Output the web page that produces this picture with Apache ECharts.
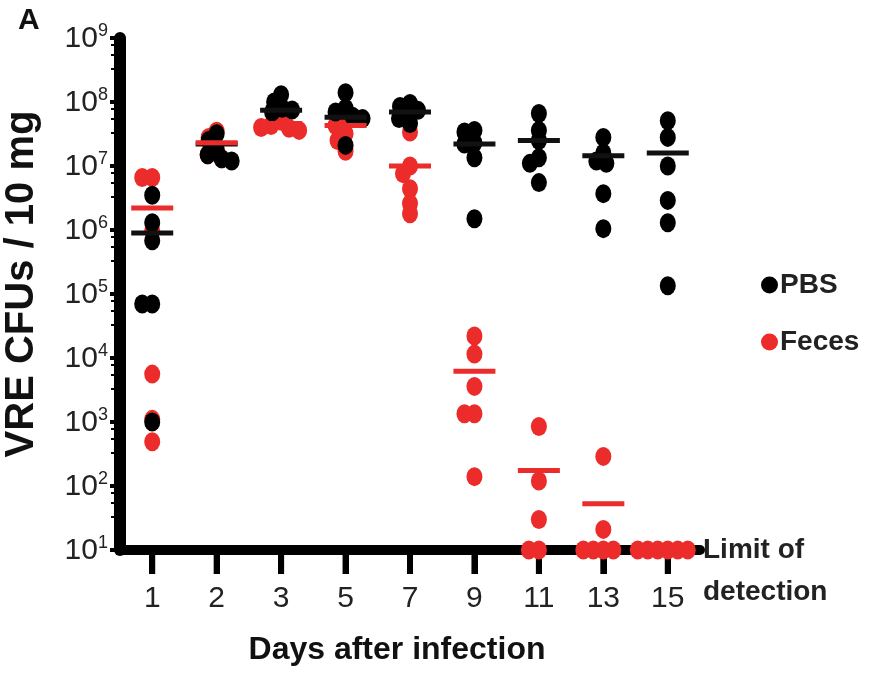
<!DOCTYPE html>
<html>
<head>
<meta charset="utf-8">
<script src="https://cdn.jsdelivr.net/npm/echarts@6/dist/echarts.min.js"></script>
<style>
  html, body { margin: 0; padding: 0; background: #fff; }
  #main { width: 871px; height: 673px; }
</style>
</head>
<body>
<div id="main"></div>
<script>
// days after infection (x categories)
const days = ['1', '2', '3', '5', '7', '9', '11', '13', '15'];

// CFU / 10 mg per mouse, one list per day
const pbsValues = [
  [3.5e6, 1.3e6, 6.8e5, 7e4, 7e4, 1e3],
  [3.2e7, 2.5e7, 1.8e7, 1.5e7, 1.3e7, 1.2e7],
  [1.3e8, 1.0e8, 8e7, 7.5e7, 7e7],
  [1.4e8, 8e7, 7e7, 6e7, 5.5e7, 2.1e7],
  [9.5e7, 8.5e7, 7.4e7, 6.6e7, 5.5e7, 4.6e7],
  [3.6e7, 3.4e7, 2.3e7, 2.2e7, 1.35e7, 1.5e6],
  [6.6e7, 3.6e7, 2.5e7, 1.35e7, 1.1e7, 5.5e6],
  [2.8e7, 1.6e7, 1.2e7, 1.1e7, 3.7e6, 1.05e6],
  [5.1e7, 2.8e7, 1.0e7, 2.9e6, 1.3e6, 1.35e5]
];
const fecesValues = [
  [6.6e6, 6.6e6, 9.7e5, 5.6e3, 1.1e3, 4.9e2],
  [3.5e7, 2.8e7, 1.8e7, 1.5e7, 1.3e7],
  [5e7, 4.3e7, 3.9e7, 3.6e7, 4e7],
  [5e7, 4.3e7, 3.2e7, 2.5e7, 1.7e7],
  [3.4e7, 1.0e7, 7.6e6, 4.4e6, 2.6e6, 1.8e6],
  [2.2e4, 1.15e4, 3.6e3, 1.35e3, 1.35e3, 1.4e2],
  [8.5e2, 1.2e2, 30, 10, 10],
  [2.9e2, 21, 10, 10, 10, 10],
  [10, 10, 10, 10, 10, 10]
];
// median bars
const pbsMedian = [9e5, 2.2e7, 7.4e7, 5.8e7, 7e7, 2.2e7, 2.5e7, 1.45e7, 1.6e7];
const fecesMedian = [2.2e6, 2.3e7, 4.6e7, 4.3e7, 1.0e7, 6.2e3, 1.74e2, 53, 10];

// y axis range
const yMin = 10;
const yMax = 1e9;

const RED = '#ec2b2b';
const BLACK = '#000';
const SANS = "'Liberation Sans', Arial, sans-serif";

const chart = echarts.init(document.getElementById('main'));

function flatPoints(lists) {
  const out = [];
  lists.forEach((vals, i) => vals.forEach(v => out.push([i, v])));
  return out;
}

let option = {
  animation: false,
  backgroundColor: '#fff',
  grid: { left: 120, right: 171, top: 38, bottom: 123, outerBoundsMode: 'none' },
  xAxis: {
    type: 'category',
    data: days,
    name: 'Days after infection',
    nameLocation: 'middle',
    nameGap: 84,
    nameTextStyle: { fontFamily: SANS, fontWeight: 'bold', fontSize: 32, color: '#111', padding: [0, 26, 0, 0] },
    axisLine: { show: true, lineStyle: { color: BLACK, width: 10 } },
    axisTick: { show: true, alignWithLabel: true, length: 24, lineStyle: { color: BLACK, width: 6 } },
    axisLabel: { margin: 34, fontFamily: SANS, fontSize: 30, color: '#222' },
    splitLine: { show: false }
  },
  yAxis: {
    type: 'log',
    logBase: 10,
    min: yMin,
    max: yMax,
    splitNumber: 8,
    name: 'VRE CFUs / 10 mg',
    nameLocation: 'middle',
    nameGap: 78,
    nameTextStyle: { fontFamily: SANS, fontWeight: 'bold', fontSize: 40, color: '#111', padding: [0, 0, 0, 20] },
    axisLine: { show: true, lineStyle: { color: BLACK, width: 12 } },
    axisTick: { show: true, length: 10, lineStyle: { color: BLACK, width: 4 } },
    minorTick: { show: true, splitNumber: 4, length: 9, lineStyle: { color: BLACK, width: 2 } },
    splitLine: { show: false },
    axisLabel: {
      margin: 12,
      formatter: v => '{b|10}{s|' + Math.round(Math.log10(v)) + '}',
      rich: {
        b: { fontFamily: SANS, fontSize: 30, color: '#222', lineHeight: 32, verticalAlign: 'bottom' },
        s: { fontFamily: SANS, fontSize: 18, color: '#222', lineHeight: 32, verticalAlign: 'top', padding: [0, 0, 14, 0] }
      }
    }
  },
  legend: {
    data: ['PBS', 'Feces'],
    orient: 'vertical',
    left: 756,
    top: 266,
    itemGap: 29,
    itemWidth: 17,
    itemHeight: 17,
    icon: 'circle',
    textStyle: { fontFamily: SANS, fontWeight: 'bold', fontSize: 28, color: '#222', padding: [0, 0, 0, -3] }
  },
  graphic: [
    {
      type: 'text', left: 703, top: 529,
      style: { text: 'Limit of\ndetection', font: 'bold 28px ' + SANS, fill: '#222', lineHeight: 42 }
    },
    {
      type: 'text', left: 18, top: 6,
      style: { text: 'A', font: 'bold 30px ' + SANS, fill: '#111' }
    }
  ],
  series: [
    {
      name: 'Feces', type: 'scatter', clip: false, symbol: 'circle', symbolSize: [16, 19],
      itemStyle: { color: RED, opacity: 1 }, data: flatPoints(fecesValues), z: 2
    },
    {
      name: 'PBS', type: 'scatter', clip: false, symbol: 'circle', symbolSize: [16, 19],
      itemStyle: { color: BLACK, opacity: 1 }, data: flatPoints(pbsValues), z: 3
    },
    {
      name: 'PBS median', type: 'scatter', clip: false, symbol: 'rect', symbolSize: [42, 5],
      itemStyle: { color: '#111', opacity: 1 }, data: pbsMedian.map((v, i) => [i, v]), z: 4
    },
    {
      name: 'Feces median', type: 'scatter', clip: false, symbol: 'rect', symbolSize: [42, 5],
      itemStyle: { color: RED, opacity: 1 }, data: fecesMedian.map((v, i) => [i, v]), z: 5
    }
  ]
};
chart.setOption(option);

// beeswarm: push each dot sideways until it is clear of the ones already placed
function swarm(lists) {
  const out = [];
  const minDist = 10;
  lists.forEach((vals, i) => {
    const placed = [];
    vals.forEach(v => {
      const py = chart.convertToPixel({ gridIndex: 0 }, [i, v])[1];
      let dx = 0;
      for (let k = 0; k < 60; k++) {
        const tries = k === 0 ? [0] : [-k, k];
        const hit = tries.find(t => placed.every(p => Math.hypot(p.dx - t, p.py - py) >= minDist));
        if (hit !== undefined) { dx = hit; break; }
      }
      placed.push({ dx: dx, py: py });
      out.push({ value: [i, v], symbolOffset: [dx, 0] });
    });
  });
  return out;
}

// tick marks under each day, placed through the axis scale
const tickMarks = days.map((d, i) => {
  const p = chart.convertToPixel({ gridIndex: 0 }, [i, yMin]);
  return { type: 'rect', z: 1, shape: { x: p[0] - 3, y: p[1], width: 6, height: 24 }, style: { fill: BLACK } };
});

chart.setOption({
  graphic: option.graphic.concat(tickMarks),
  series: [
    { name: 'Feces', data: swarm(fecesValues) },
    { name: 'PBS', data: swarm(pbsValues) }
  ]
});
</script>
</body>
</html>
